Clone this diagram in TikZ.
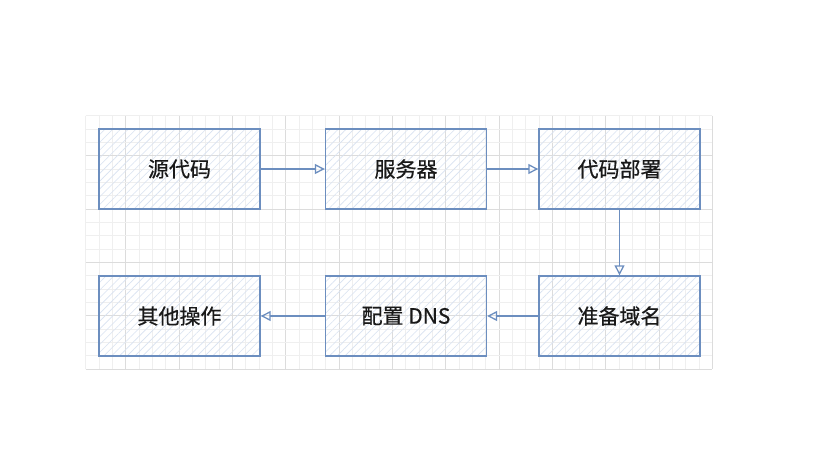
\documentclass[tikz,border=0pt]{standalone}
\usepackage{fontspec}
\newfontfamily\cjk[FakeBold=0.6]{Noto Sans CJK SC}
\usetikzlibrary{patterns.meta,arrows.meta}
\definecolor{strokeblue}{HTML}{6C8EBF}
\definecolor{hatchblue}{HTML}{D8E2F1}
\definecolor{gridminor}{HTML}{EFEFEF}
\definecolor{gridmajor}{HTML}{DCDCDC}
\begin{document}
\begin{tikzpicture}[x=1pt,y=-1pt,
  box/.style={draw=strokeblue, line width=1.4pt, minimum width=161pt, minimum height=80pt,
    inner sep=0pt, font=\cjk\fontsize{21}{21}\selectfont, text=black!90,
    pattern={Lines[angle=45,distance=5.5pt,line width=0.6pt]}, pattern color=hatchblue},
  conn/.style={draw=strokeblue, line width=1.5pt, -{Triangle[open, length=10pt, width=10pt, line width=1.3pt]}},
  gmin/.style={draw=gridminor, line width=0.8pt},
  gmaj/.style={draw=gridmajor, line width=0.8pt}]
\useasboundingbox (0,0) rectangle (822,452);
\fill[white] (0,0) rectangle (822,452);
% grid
\foreach \k in {0,...,47}{
  \pgfmathsetmacro{\xx}{85.67+\k*13.333}
  \pgfmathtruncatemacro{\m}{mod(\k+1,4)}
  \ifnum\m=0 \draw[gmaj] (\xx,115.67) -- (\xx,369); \else \draw[gmin] (\xx,115.67) -- (\xx,369); \fi
}
\foreach \k in {0,...,19}{
  \pgfmathsetmacro{\yy}{115.67+\k*13.333}
  \pgfmathtruncatemacro{\m}{mod(\k+1,4)}
  \ifnum\m=0 \draw[gmaj] (85.67,\yy) -- (712.3,\yy); \else \draw[gmin] (85.67,\yy) -- (712.3,\yy); \fi
}
% boxes
\node[box] (b1) at (179.5,169) {源代码};
\node[box] (b2) at (406,169) {服务器};
\node[box] (b3) at (619.5,169) {代码部署};
\node[box] (b4) at (179.5,316) {其他操作};
\node[box] (b5) at (406,316) {配置 DNS};
\node[box] (b6) at (619.5,316) {准备域名};
% connectors
\draw[conn] (b1) -- (b2);
\draw[conn] (b2) -- (b3);
\draw[conn] (b3) -- (b6);
\draw[conn] (b6) -- (b5);
\draw[conn] (b5) -- (b4);
\end{tikzpicture}
\end{document}
